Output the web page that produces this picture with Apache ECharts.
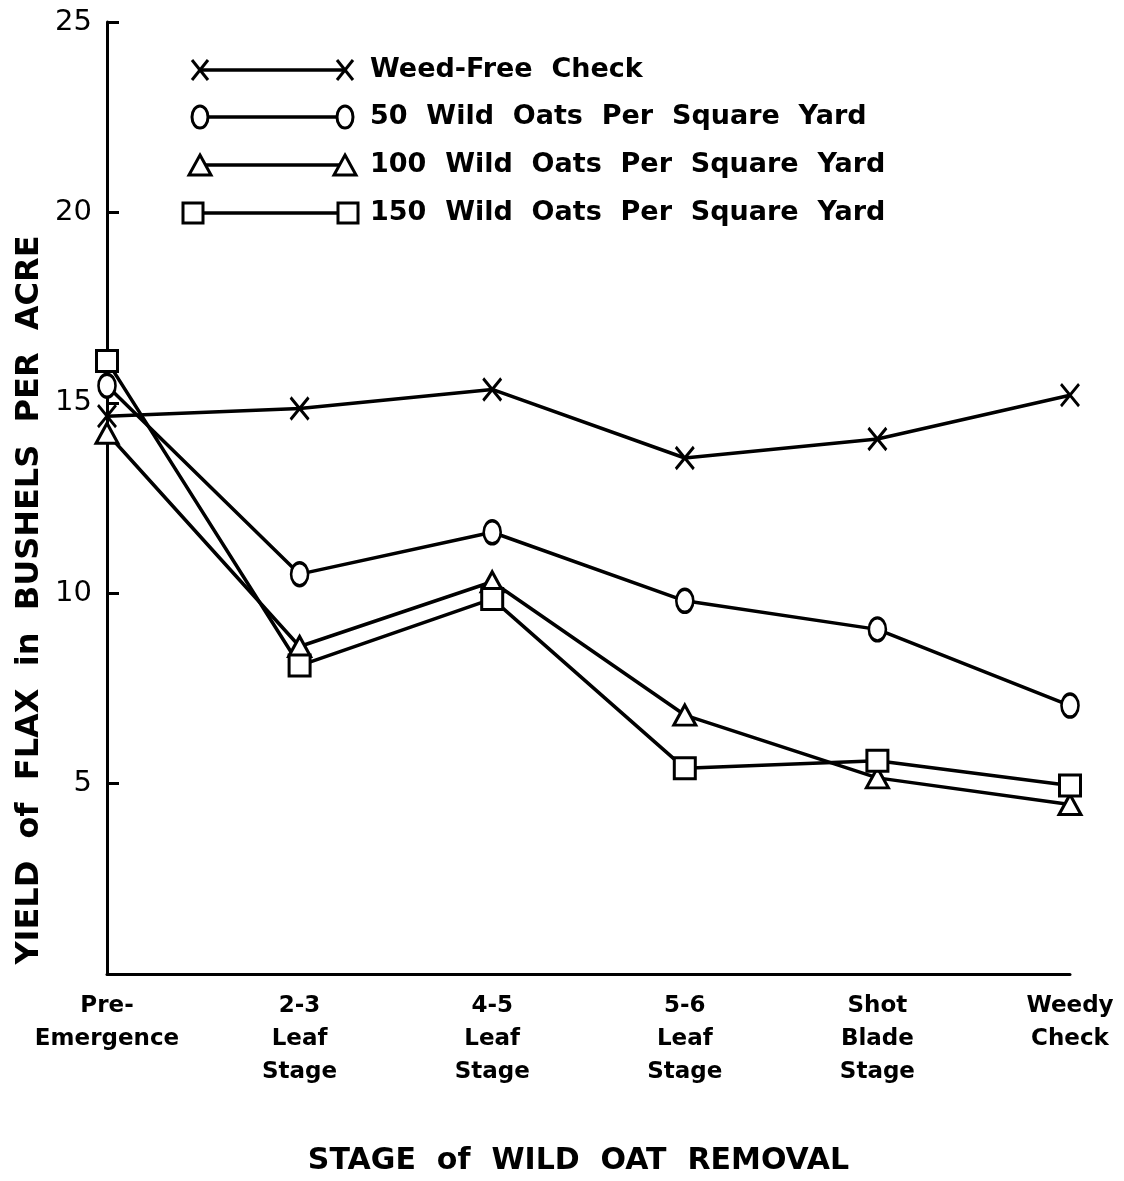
<!DOCTYPE html>
<html>
<head>
<meta charset="utf-8">
<script src="https://cdn.jsdelivr.net/npm/echarts@6/dist/echarts.min.js"></script>
<style>
html,body{margin:0;padding:0;background:#fff;}
#chart{width:1124px;height:1181px;}
</style>
</head>
<body>
<div id="chart"></div>
<script>
var stages=['Pre-\nEmergence','2-3\nLeaf\nStage','4-5\nLeaf\nStage','5-6\nLeaf\nStage','Shot\nBlade\nStage','Weedy\nCheck'];
var seriesNames=['Weed-Free  Check','50  Wild  Oats  Per  Square  Yard','100  Wild  Oats  Per  Square  Yard','150  Wild  Oats  Per  Square  Yard'];
var weedFree=[14.65,14.85,15.35,13.55,14.05,15.2];
var oats50=[15.45,10.5,11.6,9.8,9.05,7.05];
var oats100=[14.2,8.6,10.3,6.8,5.15,4.45];
var oats150=[16.1,8.1,9.85,5.4,5.6,4.95];
var yTicks=[0,5,10,15,20,25];

var FONT='DejaVu Sans';
var xPath='path://M0,0L10,12M10,0L0,12';
var LW=3.5;

var chart=echarts.init(document.getElementById('chart'));

function mkSeries(name,data,symbol,size){
    return {
        name:name,
        type:'line',
        data:data,
        symbol:symbol,
        symbolSize:size,
        lineStyle:{color:'#000',width:LW},
        itemStyle:{color:'#fff',borderColor:'#000',borderWidth:3},
        emphasis:{disabled:true},
        animation:false
    };
}

// legend drawn by hand: marker - line - marker, then the text
var legendRows=[70,117,165,213];
var legendGraphics=[];
function xMark(cx,cy){
    return [
        {type:'line',shape:{x1:cx-8,y1:cy-10,x2:cx+8,y2:cy+10},style:{stroke:'#000',lineWidth:3}},
        {type:'line',shape:{x1:cx+8,y1:cy-10,x2:cx-8,y2:cy+10},style:{stroke:'#000',lineWidth:3}}
    ];
}
function markAt(kind,cx,cy){
    var st={stroke:'#000',lineWidth:3,fill:'#fff'};
    if(kind==0) return xMark(cx,cy);
    if(kind==1) return [{type:'ellipse',shape:{cx:cx,cy:cy,rx:8,ry:11},style:st,z:10}];
    if(kind==2) return [{type:'polygon',shape:{points:[[cx,cy-10],[cx+11,cy+10],[cx-11,cy+10]]},style:st,z:10}];
    return [{type:'rect',shape:{x:cx-10,y:cy-10,width:20,height:20},style:st,z:10}];
}
for(var i=0;i<4;i++){
    var y=legendRows[i];
    legendGraphics.push({type:'line',shape:{x1:200,y1:y,x2:345,y2:y},style:{stroke:'#000',lineWidth:LW}});
    legendGraphics=legendGraphics.concat(markAt(i,i==3?193:200,y));
    legendGraphics=legendGraphics.concat(markAt(i,i==3?348:345,y));
    legendGraphics.push({type:'text',x:370,y:y,style:{text:seriesNames[i],font:'bold 27px "'+FONT+'"',fill:'#000',verticalAlign:'middle'}});
}
legendGraphics.push({
    type:'text',x:30,y:600,rotation:Math.PI/2,
    style:{text:'YIELD  of  FLAX  in  BUSHELS  PER  ACRE',font:'bold 32px "'+FONT+'"',fill:'#000',align:'center',verticalAlign:'middle'}
});

var option={
    backgroundColor:'#fff',
    animation:false,
    textStyle:{fontFamily:FONT},
    grid:{left:107,right:54,top:22,bottom:203},
    xAxis:{
        type:'category',
        data:stages,
        boundaryGap:false,
        axisLine:{lineStyle:{color:'#000',width:3}},
        axisTick:{show:false},
        axisLabel:{color:'#000',fontSize:23,fontWeight:'bold',lineHeight:33,margin:16,interval:0},
        name:'STAGE  of  WILD  OAT  REMOVAL',
        nameLocation:'middle',
        nameGap:172,
        nameTextStyle:{color:'#000',fontSize:30,fontWeight:'bold',padding:[0,20,0,0]}
    },
    yAxis:{
        type:'value',
        min:yTicks[0],
        max:yTicks[yTicks.length-1],
        interval:5,
        axisLine:{show:true,lineStyle:{color:'#000',width:3}},
        axisTick:{show:true,inside:true,length:12,lineStyle:{color:'#000',width:3}},
        axisLabel:{color:'#000',fontSize:29,margin:15,showMinLabel:false},
        splitLine:{show:false}
    },
    graphic:legendGraphics,
    series:[
        mkSeries(seriesNames[0],weedFree,xPath,[18,22]),
        mkSeries(seriesNames[1],oats50,'circle',[17,23]),
        mkSeries(seriesNames[2],oats100,'triangle',[22,20]),
        mkSeries(seriesNames[3],oats150,'rect',[21,21])
    ]
};
chart.setOption(option);
</script>
</body>
</html>
